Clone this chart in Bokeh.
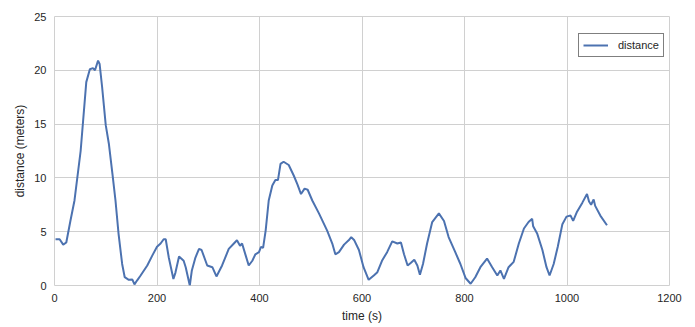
from bokeh.plotting import figure
from bokeh.models import Range1d, FixedTicker, Legend, LegendItem
from bokeh.embed import file_html
from bokeh.resources import INLINE

time_s = [2, 10, 17, 23, 31, 39, 51, 62, 69, 75, 79, 85, 88, 93, 100, 106, 113, 119, 125, 132,
          137, 145, 152, 156, 161, 168, 181, 191, 200, 207, 213, 217, 223, 232, 236, 243, 252, 256,
          264, 268, 275, 282, 287, 298, 308, 316, 327, 340, 350, 356, 362, 366, 373, 379, 386, 392,
          399, 403, 407, 412, 418, 425, 431, 436, 441, 447, 457, 467, 474, 481, 488, 494, 503, 516,
          532, 542, 548, 555, 565, 574, 579, 585, 594, 603, 613, 623, 630, 639, 649, 659, 669, 676,
          682, 689, 695, 702, 708, 713, 719, 727, 737, 750, 760, 769, 782, 792, 802, 812, 821, 831,
          844, 854, 864, 870, 877, 886, 896, 906, 916, 925, 932, 934, 942, 952, 960, 966, 974, 982,
          991, 999, 1007, 1012, 1019, 1030, 1039, 1043, 1047, 1052, 1055, 1065, 1078]
distance_m = [4.3, 4.3, 3.8, 4.0, 6.0, 7.9, 12.5, 18.9, 20.1, 20.2, 20.0, 20.9, 20.6, 18.4, 14.9,
              13.2, 10.4, 7.9, 4.8, 2.0, 0.77, 0.53, 0.55, 0.1, 0.46, 0.93, 1.86, 2.8, 3.6, 3.9,
              4.3, 4.3, 2.6, 0.6, 1.2, 2.7, 2.3, 1.7, 0.0, 1.4, 2.6, 3.4, 3.3, 1.86, 1.7, 0.84,
              1.86, 3.4, 3.9, 4.2, 3.7, 3.9, 2.8, 1.86, 2.3, 2.9, 3.1, 3.6, 3.5, 5.1, 7.9, 9.3,
              9.8, 9.8, 11.3, 11.5, 11.2, 10.2, 9.4, 8.5, 9.0, 8.9, 7.9, 6.7, 5.1, 3.9, 2.9, 3.1,
              3.8, 4.2, 4.5, 4.2, 3.3, 1.7, 0.53, 0.93, 1.24, 2.3, 3.1, 4.1, 3.9, 4.0, 2.9, 1.86,
              2.1, 2.4, 1.86, 1.0, 2.0, 3.9, 5.9, 6.7, 6.0, 4.5, 3.1, 2.0, 0.7, 0.16, 0.77, 1.7,
              2.5, 1.7, 0.93, 1.4, 0.62, 1.7, 2.2, 3.9, 5.3, 5.9, 6.2, 5.5, 4.8, 3.3, 1.7, 0.93,
              2.0, 3.6, 5.7, 6.4, 6.5, 6.0, 6.8, 7.7, 8.5, 7.8, 7.5, 8.0, 7.4, 6.5, 5.6]
x_ticks = [0, 200, 400, 600, 800, 1000, 1200]
y_ticks = [0, 5, 10, 15, 20, 25]
series_label = "distance"

FONT = "Liberation Sans"
GRID = "#d0d0d0"
TXT = "#262626"

p = figure(width=695, height=327, output_backend="svg", toolbar_location=None,
           x_range=Range1d(0, 1200), y_range=Range1d(0, 25),
           min_border_left=54, min_border_right=26, min_border_top=16, min_border_bottom=42,
           background_fill_color="white", border_fill_color="white")

r = p.line(time_s, distance_m, line_color="#4C72B0", line_width=2)

p.xaxis.ticker = FixedTicker(ticks=x_ticks)
p.yaxis.ticker = FixedTicker(ticks=y_ticks)
p.xaxis.axis_label = "time (s)"
p.yaxis.axis_label = "distance (meters)"
for ax in (p.xaxis[0], p.yaxis[0]):
    ax.axis_line_color = None
    ax.major_tick_line_color = None
    ax.minor_tick_line_color = None
    ax.major_tick_out = 0
    ax.major_tick_in = 0
    ax.minor_tick_out = 0
    ax.minor_tick_in = 0
    ax.major_label_text_font = FONT
    ax.major_label_text_font_size = "11px"
    ax.major_label_text_color = TXT
    ax.axis_label_text_font = FONT
    ax.axis_label_text_font_size = "12px"
    ax.axis_label_text_font_style = "normal"
    ax.axis_label_text_color = TXT
    ax.major_label_standoff = 8
    ax.axis_label_standoff = 4

p.xgrid.grid_line_color = GRID
p.ygrid.grid_line_color = GRID
p.outline_line_color = GRID
p.outline_line_width = 1

legend = Legend(items=[LegendItem(label=series_label, renderers=[r])],
                location=(524, 228), margin=0, padding=4, spacing=0,
                glyph_width=25, glyph_height=14, label_standoff=10,
                label_text_font=FONT, label_text_font_size="11px", label_text_color=TXT,
                border_line_color="black", border_line_width=1,
                background_fill_color="white", background_fill_alpha=1.0)
p.add_layout(legend, "center")

open("out.html", "w").write(file_html(p, INLINE))
